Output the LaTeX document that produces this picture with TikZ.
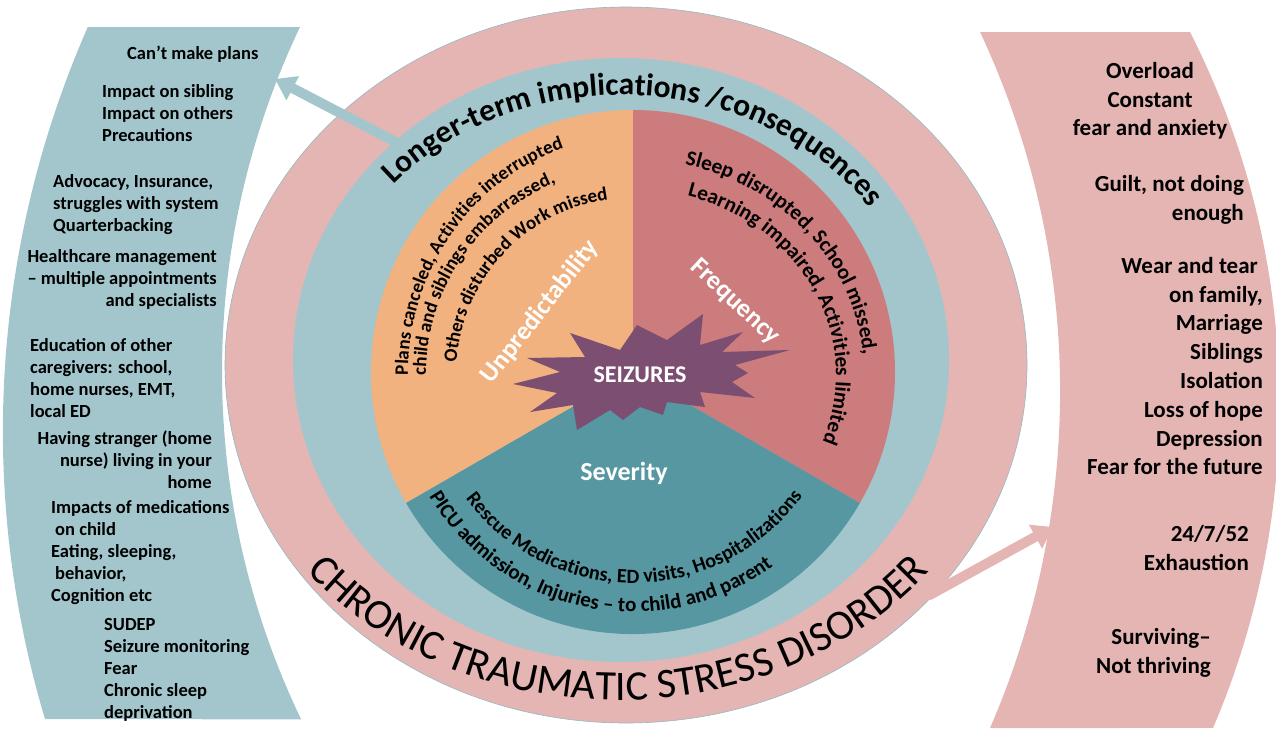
\documentclass[tikz,border=0pt]{standalone}
\usepackage{fontspec}
\setmainfont{Carlito}
\usetikzlibrary{arrows.meta,decorations.text,shapes.geometric}
\definecolor{pinkring}{HTML}{E4B5B3}
\definecolor{tealring}{HTML}{A3C6CD}
\definecolor{orangesec}{HTML}{F2B27F}
\definecolor{redsec}{HTML}{CC7C7C}
\definecolor{tealsec}{HTML}{5697A1}
\definecolor{starc}{HTML}{7B4E72}
\definecolor{edgec}{HTML}{93B9C1}
\begin{document}
\begin{tikzpicture}[x=1pt,y=-1pt,
  lbtext/.style={font=\bfseries\fontsize{18.5}{22}\selectfont, inner sep=0pt},
  rbtext/.style={font=\bfseries\fontsize{23}{28.8}\selectfont, inner sep=0pt},
  pielabel/.style={font=\bfseries\fontsize{26}{26}\selectfont, text=white, inner sep=0pt},
  ring/.style={ellipse, inner sep=0pt, outer sep=0pt},
  conn/.style={line width=10pt, shorten <=-10pt},
  arctext/.style={decorate, decoration={text along path, text align=#1}},
]
\useasboundingbox (0,0) rectangle (1276,731);
\clip (0,0) rectangle (1276,731);

% side bands
\fill[tealring] (88,27) -- (300,27) arc[start angle=205.48, end angle=154.33, radius=802]
  -- (45,719) arc[start angle=163.35, end angle=203.72, radius=1004.6] -- cycle;
\fill[pinkring] (980,32) -- (1190,32) arc[start angle=-26.98, end angle=23.19, radius=821.3]
  -- (990,728) arc[start angle=23.5, end angle=-25.14, radius=845.1] -- cycle;

% rings
\node[ring, fill=pinkring, draw=edgec, line width=0.6pt, minimum width=802pt, minimum height=716pt] (pinkRing) at (626,365) {};
\node[ring, fill=tealring, minimum width=656pt, minimum height=604pt] (tealRing) at (621,360) {};

% connectors
\coordinate (leftBandTip) at (275,79);
\coordinate (rightBandTip) at (1053,527);
\draw[conn, draw=tealring, -{Triangle[width=26pt,length=20pt]}] (tealRing.136) -- (leftBandTip);
\draw[conn, draw=pinkring, -{Triangle[width=26pt,length=20pt]}] (pinkRing.-36) -- (rightBandTip);

% pie
\fill[orangesec] (633,372) -- ++(150:262) arc[start angle=150, end angle=270, radius=262] -- cycle;
\fill[redsec] (633,372) -- ++(-90:262) arc[start angle=-90, end angle=30, radius=262] -- cycle;
\fill[tealsec] (633,372) -- ++(30:262) arc[start angle=30, end angle=150, radius=262] -- cycle;

% star
\fill[starc] (513,384) -- (560,372) -- (527,358) -- (585,357) -- (570,333) -- (620,350) -- (637,325) -- (667,340) -- (703,314) -- (700,345) -- (743,332) -- (722,352) -- (790,350) -- (735,365) -- (748,373) -- (732,382) -- (755,398) -- (700,392) -- (705,407) -- (667,402) -- (663,415) -- (640,407) -- (623,420) -- (610,410) -- (577,430) -- (573,405) -- (530,412) -- (557,393) -- cycle;
\node[pielabel, font=\bfseries\fontsize{24}{24}\selectfont] (seiz) at (640,375) {SEIZURES};

% pie labels
\node[pielabel, rotate=52] (unpred) at (540,312) {Unpredictability};
\node[pielabel, rotate=-43] (freq) at (735,302) {Frequency};
\node[pielabel] (sev) at (624,473) {Severity};

% ring texts
\path[arctext=center, decoration={text={|\bfseries\fontsize{31.5}{31.5}\selectfont|Longer-term implications /consequences}}]
  (621,362) ++(-150:305 and 267) arc[start angle=-150, end angle=-23.4, x radius=305, y radius=267];
\path[arctext=center, decoration={text={|\fontsize{42}{42}\selectfont|CHRONIC TRAUMATIC STRESS DISORDER}}]
  (618,365) ++(155:395 and 335) arc[start angle=155, end angle=25, x radius=395, y radius=335];

% orange sector texts
\path[arctext=left, decoration={text={|\bfseries\fontsize{19}{19}\selectfont|Plans canceled, Activities interrupted}}]
  (633,375) ++(180:225 and 238) arc[start angle=180, end angle=300, x radius=225, y radius=238];
\path[arctext=left, decoration={text={|\bfseries\fontsize{19}{19}\selectfont|child and siblings embarrassed,}}]
  (633,375) ++(180:207) arc[start angle=180, end angle=300, radius=207];
\path[arctext=left, decoration={text={|\bfseries\fontsize{19}{19}\selectfont|Others disturbed Work missed}}]
  (633,375) ++(184:177) arc[start angle=184, end angle=300, radius=177];

% red sector texts
\path[arctext=left, decoration={text={|\bfseries\fontsize{21.3}{21.3}\selectfont|Sleep disrupted, School missed,}}]
  (633,375) ++(-77:231 and 216) arc[start angle=-77, end angle=60, x radius=231, y radius=216];
\path[arctext=left, decoration={text={|\bfseries\fontsize{21.3}{21.3}\selectfont|Learning impaired, Activities limited}}]
  (633,375) ++(-74.5:203 and 186) arc[start angle=-74.5, end angle=60, x radius=203, y radius=186];

% severity sector texts
\path[arctext=center, decoration={text={|\bfseries\fontsize{20.3}{20.3}\selectfont|Rescue Medications, ED visits, Hospitalizations}}]
  (633,375) ++(168:208) arc[start angle=168, end angle=11, radius=208];
\path[arctext=left, decoration={text={|\bfseries\fontsize{21}{21}\selectfont|PICU admission, Injuries – to child and parent}}]
  (633,375) ++(149.3:237) arc[start angle=149.3, end angle=0, radius=237];

% left band texts
\node[lbtext, anchor=north west] (lA) at (127,46) {Can’t make plans};
\node[lbtext, align=left, anchor=north west] (lB) at (102,84) {Impact on sibling\\Impact on others\\Precautions};
\node[lbtext, align=left, anchor=north west] (lC) at (53,174) {Advocacy, Insurance,\\struggles with system\\Quarterbacking};
\node[lbtext, align=right, anchor=north east] (lD) at (217,249) {Healthcare management\\– multiple appointments\\and specialists};
\node[lbtext, align=left, anchor=north west] (lE) at (30,338) {Education of other\\caregivers: school,\\home nurses, EMT,\\local ED};
\node[lbtext, align=right, anchor=north east] (lF) at (212,431) {Having stranger (home\\nurse) living in your\\home};
\node[lbtext, align=left, anchor=north west] (lG) at (51,500) {Impacts of medications\\\hspace*{4pt}on child\\Eating, sleeping,\\\hspace*{4pt}behavior,\\Cognition etc};
\node[lbtext, align=left, anchor=north west] (lH) at (104,618) {SUDEP\\Seizure monitoring\\Fear\\Chronic sleep\\deprivation};

% right band texts
\node[rbtext, align=center, anchor=north] (r1) at (1150,62) {Overload\\Constant\\fear and anxiety};
\node[rbtext, align=right, anchor=north east] (r2) at (1244,175) {Guilt, not doing\\enough};
\node[rbtext, align=right, anchor=north east] (r3) at (1263,257) {Wear and tear\hspace*{5pt}\\on family,\\Marriage\\Siblings\\Isolation\\Loss of hope\\Depression\\Fear for the future};
\node[rbtext, align=right, anchor=north east] (r4) at (1249,525) {24/7/52\\Exhaustion};
\node[rbtext, align=right, anchor=north east] (r5) at (1211,628) {Surviving–\\Not thriving};
\end{tikzpicture}
\end{document}
